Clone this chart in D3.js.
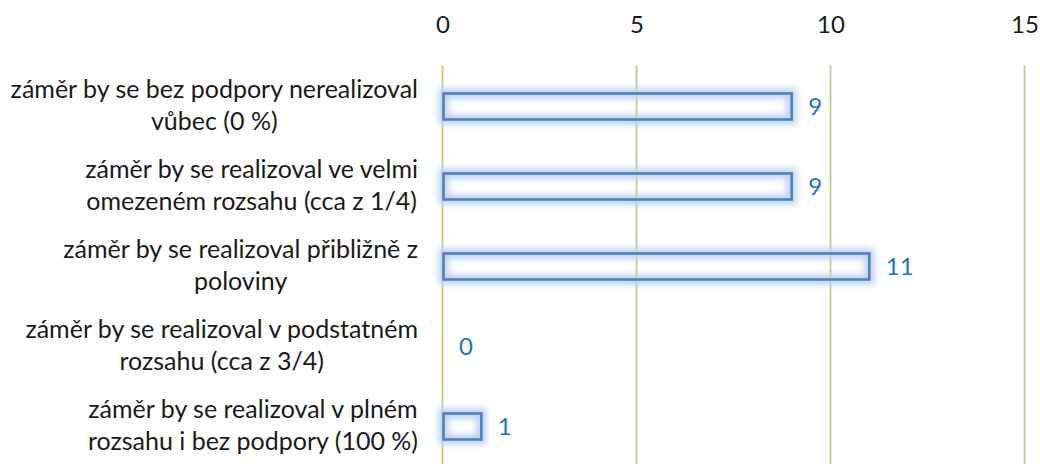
<!DOCTYPE html>
<html>
<head>
<meta charset="utf-8">
<script src="https://cdn.jsdelivr.net/npm/d3@7"></script>
<style>
  html, body { margin: 0; padding: 0; background: #ffffff; }
  svg { display: block; }
  text { font-family: "Lato", "Open Sans", sans-serif; }
</style>
</head>
<body>
<svg id="chart" width="1040" height="464"></svg>
<script>
// Categories (each split into the two lines shown beside the bars)
const categories = [
  ["záměr by se bez podpory nerealizoval", "vůbec (0 %)"],
  ["záměr by se realizoval ve velmi", "omezeném rozsahu (cca z 1/4)"],
  ["záměr by se realizoval přibližně z", "poloviny"],
  ["záměr by se realizoval v podstatném", "rozsahu (cca z 3/4)"],
  ["záměr by se realizoval v plném", "rozsahu i bez podpory (100 %)"]
];
const values = [9, 9, 11, 0, 1];
const tickValues = [0, 5, 10, 15];

const svg = d3.select("#chart");
const W = 1040, H = 464;
const plot = { left: 442.5, right: 1024.5, top: 66.5, bottom: 466.5 };
const fontSize = 25;

const x = d3.scaleLinear().domain([0, 15]).range([plot.left, plot.right]);
const y = d3.scaleBand()
  .domain(d3.range(categories.length))
  .range([plot.top, plot.bottom])
  .paddingInner(0.65)
  .paddingOuter(0.325);

// Soft glow around the bar outlines
const defs = svg.append("defs");
const glow = defs.append("filter").attr("id", "glow")
  .attr("x", "-20%").attr("y", "-60%").attr("width", "140%").attr("height", "220%");
glow.append("feGaussianBlur").attr("stdDeviation", 3.4);

// Vertical grid lines
svg.append("g").selectAll("line")
  .data(tickValues)
  .join("line")
  .attr("x1", d => x(d)).attr("x2", d => x(d))
  .attr("y1", 65.5).attr("y2", H)
  .attr("stroke", "#b7d089")
  .attr("stroke-width", 1.8);

// Top axis labels
const axis = d3.axisTop(x).tickValues(tickValues).tickSize(0).tickPadding(0);
const gAxis = svg.append("g").attr("transform", "translate(0,33)").call(axis);
gAxis.select(".domain").remove();
gAxis.selectAll("text")
  .attr("font-family", "Lato, 'Open Sans', sans-serif")
  .attr("font-size", fontSize - 1)
  .attr("fill", "#1a1a1a")
  .attr("dy", 0);

// Bars: blurred light-blue halo then the blue outline
const bars = svg.append("g");
const data = values.map((v, i) => ({ v, i })).filter(d => d.v > 0);
bars.selectAll("rect.halo")
  .data(data)
  .join("rect")
  .attr("class", "halo")
  .attr("x", x(0) + 1)
  .attr("y", d => y(d.i) + 1)
  .attr("width", d => x(d.v) - x(0) - 1)
  .attr("height", y.bandwidth() - 2)
  .attr("fill", "none")
  .attr("stroke", "#bcd3f1")
  .attr("stroke-width", 10)
  .attr("filter", "url(#glow)");
bars.selectAll("rect.bar")
  .data(data)
  .join("rect")
  .attr("class", "bar")
  .attr("x", x(0) + 1)
  .attr("y", d => y(d.i) + 1)
  .attr("width", d => x(d.v) - x(0) - 1)
  .attr("height", y.bandwidth() - 2)
  .attr("fill", "none")
  .attr("stroke", "#4f81bd")
  .attr("stroke-width", 2.6);

// Value labels
svg.append("g").selectAll("text")
  .data(values)
  .join("text")
  .attr("x", d => x(d) + 16.5)
  .attr("y", (d, i) => y(i) + y.bandwidth() / 2 + 8)
  .attr("font-size", fontSize - 1)
  .attr("fill", "#1f74c2")
  .text(d => d);

// Category labels, two centred lines right-aligned as a block against the axis
const labelRight = 418;
const gLab = svg.append("g");
categories.forEach((lines, i) => {
  const cy = y(i) + y.bandwidth() / 2;
  const t = gLab.append("text")
    .attr("font-size", fontSize)
    .attr("fill", "#1a1a1a")
    .attr("text-anchor", "middle");
  const spans = lines.map((ln, k) =>
    t.append("tspan").attr("y", cy - 8.5 + k * 32).text(ln));
  const widest = d3.max(spans, s => s.node().getComputedTextLength());
  spans.forEach(s => s.attr("x", labelRight - widest / 2));
});
</script>
</body>
</html>
